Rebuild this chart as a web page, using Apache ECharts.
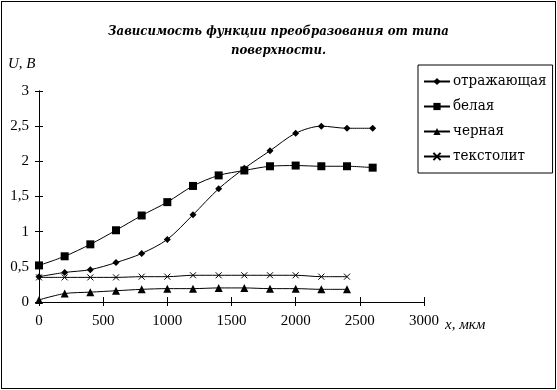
<!DOCTYPE html>
<html><head><meta charset="utf-8">
<script src="https://cdn.jsdelivr.net/npm/echarts@6/dist/echarts.min.js"></script>
<style>
html,body{margin:0;padding:0;background:#fff;}
#frame{position:absolute;left:1px;top:1px;width:553px;height:386px;border:1px solid #000;}
#c{position:absolute;left:0;top:0;width:557px;height:390px;}
</style></head><body>
<div id="frame"></div>
<div id="c"></div>
<script>
const xValues = [0,200,400,600,800,1000,1200,1400,1600,1800,2000,2200,2400,2600];
const seriesNames = ['отражающая','белая','черная','текстолит'];
const reflective = [0.36,0.42,0.46,0.56,0.69,0.89,1.24,1.61,1.90,2.15,2.40,2.50,2.47,2.47];
const white = [0.52,0.65,0.82,1.02,1.23,1.42,1.65,1.80,1.87,1.93,1.94,1.93,1.93,1.91];
const black = [0.03,0.12,0.14,0.16,0.18,0.19,0.19,0.20,0.20,0.19,0.19,0.18,0.18];
const textolite = [0.35,0.35,0.35,0.35,0.36,0.36,0.38,0.38,0.38,0.38,0.38,0.36,0.36];
const titleText = 'Зависимость функции преобразования от типа\nповерхности.';
const yAxisName = 'U, В';
const xAxisName = 'x, мкм';

const font = 'Liberation Serif';
const font2 = 'DejaVu Serif Condensed';
const pairs = arr => arr.map((v,i)=>[xValues[i], v]);
const symbols = ['diamond','rect','triangle','path://M0,0L10,10M10,0L0,10'];
const sizes = [7,8,8,6];
const datas = [reflective, white, black, textolite];

const chart = echarts.init(document.getElementById('c'), null, {renderer:'canvas'});
const axisCommon = {
  axisLine:{show:true,lineStyle:{color:'#000',width:1}},
  splitLine:{show:false},
};
chart.setOption({
  animation:false,
  backgroundColor:'transparent',
  title:{text:titleText,left:'center',top:17,
    textStyle:{fontFamily:font2,fontSize:13,fontWeight:'bold',fontStyle:'italic',color:'#000',lineHeight:19}},
  graphic:[
    {type:'text',left:8,top:57,style:{text:yAxisName,font:'italic 15px "Liberation Serif"',fill:'#000'}},
    {type:'text',left:445,top:318,style:{text:xAxisName,font:'italic 15px "Liberation Serif"',fill:'#000'}}
  ],
  legend:{orient:'vertical',left:418,top:65,padding:[8,6,8,5],itemGap:8,itemWidth:26,itemHeight:9,
    borderColor:'#000',borderWidth:1,borderRadius:0,
    textStyle:{fontFamily:font2,fontSize:15,color:'#000',padding:[0,0,0,-2],lineHeight:17},
    data:seriesNames},
  grid:{left:39,right:133,top:91,bottom:88,containLabel:false},
  xAxis:[
    Object.assign({type:'value',min:0,max:3000,interval:500,
      axisTick:{show:true,inside:false,length:4,lineStyle:{color:'#000'}},
      axisLabel:{fontFamily:font,fontSize:15,color:'#000',margin:12,formatter:v=>String(v)}},axisCommon),
    Object.assign({type:'value',min:0,max:3000,interval:500,position:'bottom',
      axisTick:{show:true,inside:true,length:5,lineStyle:{color:'#000'}},
      axisLabel:{show:false}},axisCommon)
  ],
  yAxis:[
    Object.assign({type:'value',min:0,max:3,interval:0.5,
      axisTick:{show:true,inside:false,length:4,lineStyle:{color:'#000'}},
      axisLabel:{fontFamily:font,fontSize:15,color:'#000',margin:10,
        formatter:v=>String(v).replace('.',',')}},axisCommon),
    Object.assign({type:'value',min:0,max:3,interval:0.5,position:'left',
      axisTick:{show:true,inside:true,length:4,lineStyle:{color:'#000'}},
      axisLabel:{show:false}},axisCommon)
  ],
  series:seriesNames.map((n,i)=>({
    name:n,type:'line',smooth:0.3,data:pairs(datas[i]),
    symbol:symbols[i],symbolSize:sizes[i],showSymbol:true,
    lineStyle:{color:'#000',width:1},
    itemStyle:{color:'#000',borderColor:'#000',borderWidth:i===3?1:0},
    xAxisIndex:0,yAxisIndex:0
  }))
});
</script>
</body></html>
